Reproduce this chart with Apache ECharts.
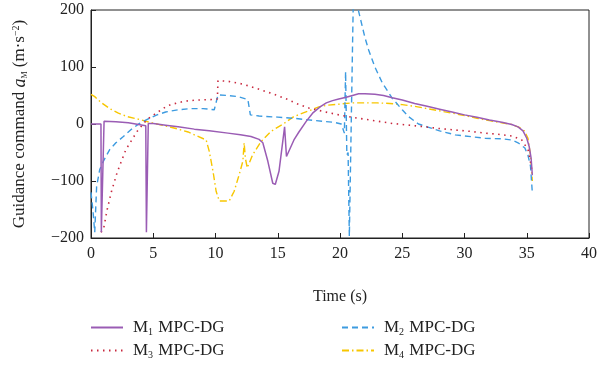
<!DOCTYPE html>
<html>
<head>
<meta charset="utf-8">
<script src="https://cdn.jsdelivr.net/npm/echarts@6/dist/echarts.min.js"></script>
<style>html,body{margin:0;padding:0;background:#fff}#c{width:600px;height:366px}</style>
</head>
<body>
<div id="c"></div>
<script>
// Time (s) and guidance command (m·s^-2)
var m1T = [0, 0.8, 0.83, 0.95, 1.05, 2, 3, 4.4, 4.45, 4.5, 4.6, 5, 6, 7, 8.3, 9.5, 11, 12, 12.85, 13.5, 13.8, 14.2, 14.6, 14.8, 15.1, 15.55, 15.7, 16.3, 16.7, 17.3, 17.8, 18.4, 18.9, 19.4, 19.9, 20.5, 21, 21.5, 22, 22.8, 23.5, 24.2, 25, 26, 27, 28, 29, 30, 31, 32, 33, 33.8, 34.3, 34.7, 35.0, 35.2, 35.35, 35.45];
var m1V = [0, 0, -190, -190, 5, 4, 2, -3, -190, -190, 1, 1, -2, -5, -9, -12, -16, -19, -22, -27, -33, -65, -104, -106, -83, -5, -57, -28, -14, 5, 19, 30, 37, 41, 44, 47, 50, 53, 53, 52, 50, 46, 42, 36, 31, 26, 21, 16, 12, 7, 3, -1, -5, -12, -25, -40, -60, -90];

var m2T = [0, 0.15, 0.3, 0.45, 0.7, 1.0, 1.5, 2, 2.6, 3.2, 3.9, 4.6, 5.3, 6, 7, 8, 9, 9.9, 10.2, 11, 11.8, 12.6, 12.8, 13.5, 15, 16.3, 18, 19.5, 20.1, 20.35, 20.45, 20.55, 20.65, 20.75, 20.8, 21.08, 21.47, 22, 22.3, 22.8, 23.4, 24.2, 25, 25.5, 26.3, 27, 28, 29.25, 30, 31.65, 33, 33.8, 34.3, 34.85, 35.1, 35.3, 35.45];
var m2V = [-120, -150, -190, -110, -80, -65, -45, -33, -22, -10, 1, 9, 16, 21, 25, 27, 27, 25, 51, 50, 48, 43, 16, 14, 12, 10, 6, 3, 0, -16, 92, -54, -50, -197, -197, 232, 200, 152, 130, 100, 72, 45, 25, 13, 0, -5, -12, -19, -21, -25, -26, -28, -33, -42, -55, -74, -121];

var m3T = [0.8, 1.0, 1.3, 1.65, 2.1, 2.8, 3.7, 4.5, 5.1, 6, 6.4, 7.5, 8.5, 9.8, 10.15, 10.2, 11, 12.2, 13.5, 14.85, 15.8, 16.5, 17.5, 18.85, 19.9, 21.5, 23, 24.2, 25.5, 26.85, 28, 29.5, 30.5, 31.65, 32.7, 33.8, 34.6, 35.1, 35.25, 35.4];
var m3V = [-190, -185, -150, -118, -85, -45, -13, 8, 17, 30, 34, 40, 42, 43, 44, 76, 75, 70, 61, 51, 43, 36, 28, 21, 16, 10, 5, 1, -2, -5, -8, -11, -13, -16, -18, -21, -28, -45, -60, -80];

var m4T = [0, 0.3, 0.8, 1.5, 2.2, 2.9, 3.9, 4.7, 5.5, 6.3, 7, 7.8, 8.3, 9.25, 9.5, 9.8, 10.05, 10.3, 11.1, 11.5, 11.9, 12.2, 12.3, 12.4, 12.55, 12.98, 13.65, 14.45, 15.5, 16.3, 17, 17.6, 18.3, 19, 20, 21, 22, 23, 24, 25, 26, 27, 28, 29, 30, 31, 32, 33, 33.8, 34.4, 34.8, 35.1, 35.3, 35.45];
var m4V = [52, 48, 38, 27, 19, 13, 8, 3, -1, -5, -9, -14, -19, -28, -48, -83, -118, -135, -135, -118, -89, -65, -33, -60, -77, -54, -31, -13, 1, 13, 19, 24, 30, 33, 35, 37, 37, 37, 36, 34, 31, 27, 23, 19, 15, 10, 6, 2, -1, -6, -12, -25, -55, -100];

var xTicks = [0, 5, 10, 15, 20, 25, 30, 35, 40];
var yTicks = [-200, -100, 0, 100, 200];

var seriesNames = ['M1 MPC-DG', 'M2 MPC-DG', 'M3 MPC-DG', 'M4 MPC-DG'];
var subs = {'M1 MPC-DG': '1', 'M2 MPC-DG': '2', 'M3 MPC-DG': '3', 'M4 MPC-DG': '4'};

function pairs(t, v) { return t.map(function (x, i) { return [x, v[i]]; }); }

var FONT = 'Liberation Serif';
var chart = echarts.init(document.getElementById('c'), null, {renderer: 'canvas'});

var legendRich = {
  f: {fontFamily: FONT, fontSize: 17, color: '#222', padding: [0, 0, 0, 5]},
  m: {fontFamily: FONT, fontSize: 17, color: '#222'},
  s: {fontFamily: FONT, fontSize: 10, color: '#222', padding: [10, 1, 0, 0]}
};
function legendFmt(n) { return '{f|M}{s|' + subs[n] + '}{m|' + n.slice(2) + '}'; }
function mkLegend(name, left, top) {
  return {data: [name], orient: 'horizontal', left: left, top: top, itemWidth: 32, itemHeight: 10, itemGap: 10,
    itemStyle: {opacity: 0}, formatter: legendFmt,
    textStyle: {fontFamily: FONT, fontSize: 17, color: '#222', rich: legendRich}};
}

var common = {
  type: 'line', symbol: 'none', showSymbol: false, animation: false, clip: true
};

chart.setOption({
  animation: false,
  backgroundColor: '#fff',
  grid: {left: 91, right: 9, top: 10, bottom: 128, show: true, borderColor: '#222', borderWidth: 1, backgroundColor: 'transparent'},
  xAxis: {
    type: 'value', min: xTicks[0], max: xTicks[xTicks.length - 1], interval: 5,
    name: 'Time (s)', nameLocation: 'middle', nameGap: 51,
    nameTextStyle: {fontFamily: FONT, fontSize: 16, color: '#222'},
    axisLine: {onZero: false, lineStyle: {color: '#222', width: 1}},
    axisTick: {inside: true, length: 5, lineStyle: {color: '#222'}},
    axisLabel: {fontFamily: FONT, fontSize: 16, color: '#222', margin: 8},
    splitLine: {show: false}
  },
  yAxis: {
    type: 'value', min: yTicks[0], max: yTicks[yTicks.length - 1], interval: 100,
    name: '{n|Guidance command }{a|a}{s|M}{n| (m·s}{p|−2}{n|)}',
    nameLocation: 'middle', nameGap: 62, nameRotate: 90,
    nameTextStyle: {
      fontFamily: FONT, fontSize: 17, color: '#222',
      rich: {
        n: {fontFamily: FONT, fontSize: 17, color: '#222'},
        a: {fontFamily: FONT, fontSize: 18, fontStyle: 'italic', color: '#222'},
        s: {fontFamily: FONT, fontSize: 8, color: '#222', padding: [10, 0, 0, 0]},
        p: {fontFamily: FONT, fontSize: 10, color: '#222', padding: [0, 0, 8, 0]}
      }
    },
    axisLine: {onZero: false, lineStyle: {color: '#222', width: 1}},
    axisTick: {inside: true, length: 5, lineStyle: {color: '#222'}},
    axisLabel: {fontFamily: FONT, fontSize: 16, color: '#222', margin: 7,
      formatter: function (v) { return v < 0 ? '−' + (-v) : '' + v; }},
    splitLine: {show: false}
  },
  legend: [
    mkLegend(seriesNames[0], 85, 314),
    mkLegend(seriesNames[2], 85, 337),
    mkLegend(seriesNames[1], 336, 314),
    mkLegend(seriesNames[3], 336, 337)
  ],
  series: [
    Object.assign({}, common, {name: seriesNames[0], data: pairs(m1T, m1V), z: 5,
      lineStyle: {color: '#9a5cb4', width: 1.5, type: 'solid'}, itemStyle: {color: '#9a5cb4'}}),
    Object.assign({}, common, {name: seriesNames[1], data: pairs(m2T, m2V), z: 3,
      lineStyle: {color: '#3d9be0', width: 1.4, type: [6, 4]}, itemStyle: {color: '#3d9be0'}}),
    Object.assign({}, common, {name: seriesNames[2], data: pairs(m3T, m3V), z: 4,
      lineStyle: {color: '#c8283e', width: 1.6, type: [1.5, 4.5]}, itemStyle: {color: '#c8283e'}}),
    Object.assign({}, common, {name: seriesNames[3], data: pairs(m4T, m4V), z: 2,
      lineStyle: {color: '#f7c600', width: 1.4, type: [7, 3, 1.5, 3]}, itemStyle: {color: '#f7c600'}})
  ]
});
</script>
</body>
</html>
